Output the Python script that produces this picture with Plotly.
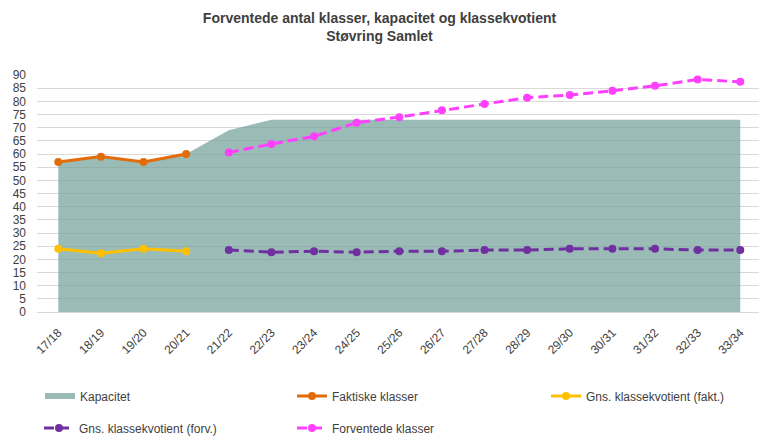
import plotly.graph_objects as go

years = ["17/18", "18/19", "19/20", "20/21", "21/22", "22/23", "23/24", "24/25", "25/26",
         "26/27", "27/28", "28/29", "29/30", "30/31", "31/32", "32/33", "33/34"]
kapacitet = [57, 59, 57, 60, 69, 73, 73, 73, 73, 73, 73, 73, 73, 73, 73, 73, 73]
faktiske_years = years[:4]
faktiske = [57, 59, 57, 60]
kvotient_fakt = [24.0, 22.3, 24.0, 23.1]
forv_years = years[4:]
kvotient_forv = [23.5, 22.7, 23.1, 22.7, 23.1, 23.1, 23.5, 23.5, 24.0, 24.0, 24.0, 23.5, 23.5]
forventede = [60.6, 63.8, 66.7, 71.9, 74.0, 76.6, 79.0, 81.4, 82.4, 84.0, 85.9, 88.3, 87.4]

FONT = "Liberation Sans, Arial, sans-serif"
W, H = 759, 437

fig = go.Figure()
fig.add_trace(go.Scatter(x=years, y=kapacitet, name="Kapacitet", mode="none",
                         fill="tozeroy", fillcolor="rgba(112,158,152,0.70)",
                         legend="legend"))
fig.add_trace(go.Scatter(x=faktiske_years, y=faktiske, name="Faktiske klasser",
                         mode="lines+markers", line=dict(color="#E36C0A", width=3),
                         marker=dict(size=8, color="#E36C0A"), legend="legend2"))
fig.add_trace(go.Scatter(x=faktiske_years, y=kvotient_fakt, name="Gns. klassekvotient (fakt.)",
                         mode="lines+markers", line=dict(color="#FFC000", width=3),
                         marker=dict(size=8, color="#FFC000"), legend="legend3"))
fig.add_trace(go.Scatter(x=forv_years, y=kvotient_forv, name="Gns. klassekvotient (forv.)",
                         mode="lines+markers", line=dict(color="#7030A0", width=3, dash="10px,5px"),
                         marker=dict(size=8, color="#7030A0"), legend="legend4"))
fig.add_trace(go.Scatter(x=forv_years, y=forventede, name="Forventede klasser",
                         mode="lines+markers", line=dict(color="#FF40FF", width=3, dash="10px,5px"),
                         marker=dict(size=8, color="#FF40FF"), legend="legend5"))

legend_common = dict(orientation="h", xanchor="left", yanchor="middle",
                     xref="container", yref="container",
                     font=dict(family=FONT, size=12, color="#404040"),
                     bgcolor="rgba(0,0,0,0)", itemclick=False, tracegroupgap=0)

def leg(text_x, center_y):
    return dict(x=(text_x - 40) / W, y=1 - center_y / H, **legend_common)

fig.update_layout(
    width=W, height=H,
    margin=dict(l=37, r=0, t=75, b=125, autoexpand=False),
    paper_bgcolor="white", plot_bgcolor="white",
    font=dict(family=FONT, size=12, color="#404040"),
    title=dict(text="<b>Forventede antal klasser, kapacitet og klassekvotient<br>Støvring Samlet</b>",
               x=0.5, xref="container", xanchor="center", y=0.948, yref="container", yanchor="top",
               font=dict(family=FONT, size=14, color="#404040")),
    xaxis=dict(type="category", range=[-0.5, 16.44], tickangle=-45, showgrid=False,
               showline=True, linecolor="#d9d9d9", ticks="", tickfont=dict(size=12),
               ticklabelstandoff=8, automargin=False),
    yaxis=dict(range=[0, 90], dtick=5, showgrid=True, gridcolor="#d9d9d9", gridwidth=1,
               zeroline=False, ticks="", tickfont=dict(size=12), fixedrange=True,
               ticklabelstandoff=10, automargin=False),
    legend=leg(80, 396),
    legend2=leg(332, 396),
    legend3=leg(586, 396),
    legend4=leg(79, 428),
    legend5=leg(332, 428),
    showlegend=True,
)

fig.write_html("out.html", config={"displayModeBar": False},
               post_script="document.body.style.margin='0';")
